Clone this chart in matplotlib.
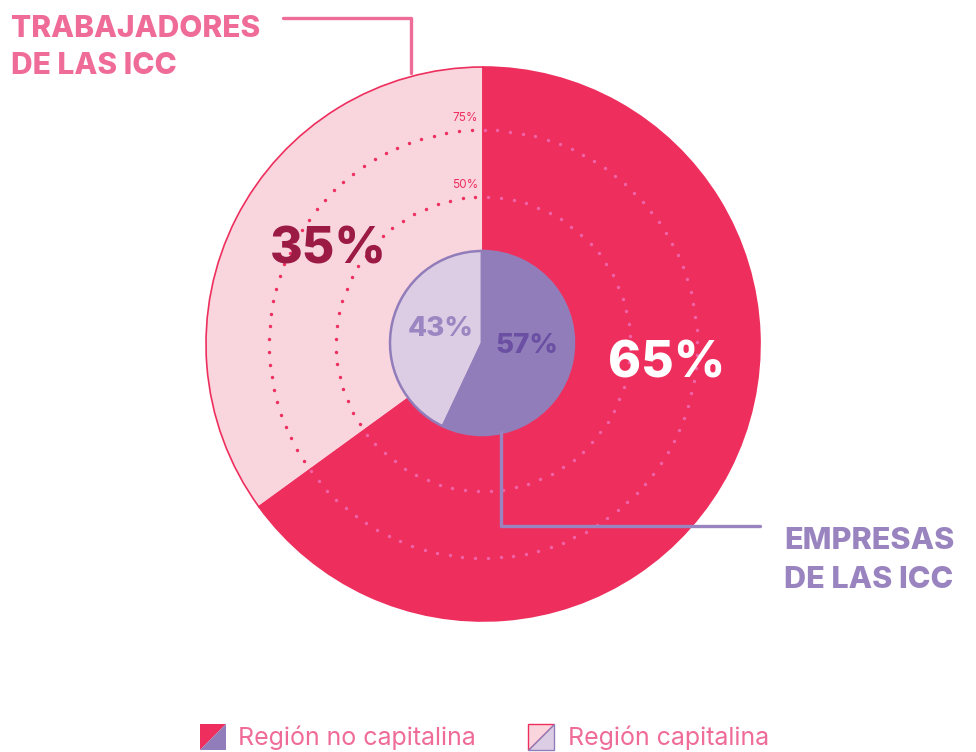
import numpy as np
import matplotlib.pyplot as plt
from matplotlib.patches import Polygon

# datos
trabajadores = [35, 65]          # capitalina, no capitalina
empresas = [43, 57]              # capitalina, no capitalina
anillos = [50, 75]               # anillos punteados de referencia
leyenda = ["Región no capitalina", "Región capitalina"]

rosa_osc = "#EE2F5E"
rosa_cla = "#F9D5DE"
lila_osc = "#917DBA"
lila_cla = "#DDCDE4"
rosa_txt = "#EF6C98"
lila_txt = "#9A84C0"

W, H = 976, 752
fig = plt.figure(figsize=(W / 100, H / 100), dpi=100)
ax = fig.add_axes([0, 0, 1, 1])

cx, cy = 483, 408
R, r = 277, 92

ax.pie(trabajadores, colors=[rosa_cla, rosa_osc], startangle=90, counterclock=True,
       center=(cx, cy), radius=R, frame=True,
       wedgeprops=dict(edgecolor=rosa_osc, linewidth=1.2))

# anillos punteados
lim = 90 + trabajadores[0] / 100 * 360
for p, rr in zip(anillos, [147, 214]):
    n = int(round(2 * np.pi * rr / 12.8))
    ang = (90 + np.arange(n) * 360 / n + 3) % 360
    sobre_cla = (ang >= 90) & (ang <= lim)
    t = np.radians(ang)
    ax.scatter(cx + rr * np.cos(t[sobre_cla]), cy + rr * np.sin(t[sobre_cla]),
               s=6, color=rosa_osc, lw=0, zorder=3)
    ax.scatter(cx + rr * np.cos(t[~sobre_cla]), cy + rr * np.sin(t[~sobre_cla]),
               s=6, color="#F062A6", lw=0, zorder=3)
    ax.text(cx - 5, cy + rr + 12, f"{p}%", ha="right", va="center",
            fontsize=8.5, color=rosa_osc, family="Inter")

ax.pie(empresas, colors=[lila_cla, lila_osc], startangle=90, counterclock=True,
       center=(cx - 1, cy + 1), radius=r, frame=True,
       wedgeprops=dict(edgecolor=lila_osc, linewidth=1.8))
ax.set_xlim(0, W)
ax.set_ylim(0, H)
ax.set_aspect("equal")
ax.axis("off")

bold = dict(family="Inter", fontweight=800)
ax.text(328, H - 250, f"{trabajadores[0]}%", ha="center", va="center",
        fontsize=36, color="#9B1B45", **bold)
ax.text(667, H - 364, f"{trabajadores[1]}%", ha="center", va="center",
        fontsize=36, color="white", **bold)
ax.text(441, H - 329, f"{empresas[0]}%", ha="center", va="center",
        fontsize=20, color="#9C86C2", **bold)
ax.text(527, H - 346, f"{empresas[1]}%", ha="center", va="center",
        fontsize=20, color="#6A4FA3", **bold)

# titulos con lineas guia
for txt, yb in zip(["TRABAJADORES", "DE LAS ICC"], [37, 74]):
    ax.text(11, H - yb, txt, ha="left", va="baseline", fontsize=21.5,
            color=rosa_txt, **bold)
ax.plot([283, 411, 411], [H - 18, H - 18, H - 73], color=rosa_txt, lw=2.4,
        solid_capstyle="round", zorder=4)
for txt, yb in zip(["EMPRESAS", "DE LAS ICC"], [549, 588]):
    ax.text(784, H - yb, txt, ha="left", va="baseline", fontsize=22,
            color=lila_txt, **bold)
ax.plot([501, 501, 760], [H - 432, H - 526, H - 526], color=lila_txt, lw=2.4,
        solid_capstyle="round", zorder=4)

# leyenda
def cuadro(x, y, c1, c2, borde=None):
    s = 26
    ax.add_patch(Polygon([(x, y), (x, y + s), (x + s, y + s)], closed=True,
                         facecolor=c1, edgecolor=borde[0] if borde else "none", lw=1))
    ax.add_patch(Polygon([(x, y), (x + s, y), (x + s, y + s)], closed=True,
                         facecolor=c2, edgecolor=borde[1] if borde else "none", lw=1))

cuadro(200, H - 750, rosa_osc, lila_osc)
ax.text(238, H - 738, leyenda[0], ha="left", va="center", fontsize=18,
        color=rosa_txt, family="Inter")
cuadro(528, H - 750, rosa_cla, lila_cla, borde=(rosa_osc, lila_osc))
ax.text(568, H - 738, leyenda[1], ha="left", va="center", fontsize=18,
        color=rosa_txt, family="Inter")

fig.savefig("out.png", dpi=100)
